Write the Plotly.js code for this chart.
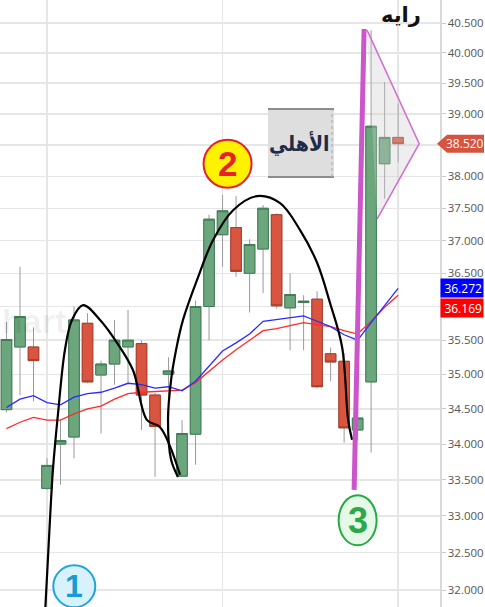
<!DOCTYPE html>
<html>
<head>
<meta charset="utf-8">
<script src="https://cdn.plot.ly/plotly-3.0.1.min.js"></script>
<style>html,body{margin:0;padding:0;background:#fff;}#chart{width:485px;height:607px;}</style>
</head>
<body>
<div id="chart"></div>
<script>
// ---- candle data ----
const openP  = [34.49,35.40,35.40,33.38,34.00,34.10,35.75,34.99,35.15,35.40,35.45,34.70,35.00,33.55,34.14,36.00,37.09,37.20,36.50,36.87,37.40,35.98,36.06,36.11,35.30,35.19,34.20,34.89,38.20,38.62];
const highP  = [35.77,36.60,35.69,33.80,34.35,36.00,35.90,35.20,35.80,35.95,35.50,34.73,35.25,34.34,36.09,37.40,37.71,37.69,37.02,37.55,37.42,36.50,36.17,36.23,35.39,35.31,34.45,40.38,39.52,39.17];
const lowP   = [34.45,34.70,34.61,33.36,33.43,33.80,34.87,34.15,34.85,34.87,34.20,33.54,34.30,33.54,33.71,35.50,36.60,36.45,35.91,36.20,35.97,35.35,35.35,34.80,34.90,34.02,34.05,33.88,37.65,38.22];
const closeP = [35.51,35.85,35.20,33.70,34.05,35.80,34.89,35.15,35.50,35.50,34.70,34.25,35.05,34.15,36.00,37.33,37.46,36.53,36.94,37.50,36.01,36.18,36.08,34.82,35.18,34.23,34.37,38.80,38.62,38.52];
// moving averages
const maBlue = [34.52,34.64,34.69,34.59,34.56,34.67,34.72,34.74,34.80,34.87,34.85,34.80,34.82,34.76,34.90,35.12,35.34,35.46,35.59,35.78,35.81,35.84,35.86,35.78,35.70,35.58,35.50,35.76,36.02,36.272];
const maRed  = [34.22,34.31,34.38,34.34,34.34,34.43,34.50,34.54,34.64,34.72,34.74,34.75,34.77,34.77,34.88,35.05,35.21,35.36,35.50,35.64,35.67,35.72,35.76,35.73,35.70,35.64,35.59,35.78,35.99,36.169];
// y axis ticks (labels hidden under the price tags are left blank)
const tickValues = [32,32.5,33,33.5,34,34.5,35,35.5,36,36.5,37,37.5,38,38.5,39,39.5,40,40.5];
const hiddenTicks = [36, 38.5];
// hand-drawn annotations (candle index, price)
const arc1X = [2.83,3.22,3.44,3.82,4.33,4.85,5.67,6.93,8.19,9.37,10.41,11.37,12.85];
const arc1Y = [31.60,32.95,33.64,34.44,35.36,35.80,36.02,35.80,35.46,35.06,34.34,34.24,33.57];
const arc2X = [12.70,12.19,11.96,12.19,12.56,13.07,14.11,15.30,16.78,18.56,20.26,21.74,23.00,23.96,24.85,25.30,25.59];
const arc2Y = [33.54,33.78,34.34,34.92,35.36,35.80,36.40,37.01,37.47,37.69,37.58,37.16,36.66,36.05,35.40,34.34,34.06];
const pinkLineX = [25.74,26.48];
const pinkLineY = [33.36,40.40];
const triX = [26.70,30.56,27.44];
const triY = [40.38,38.52,37.33];
const circleLabels = ['1','2','3'];
const circleX = [5.02,16.37,26.0];
const circleY = [32.05,38.20,32.94];

const xs = openP.map((_, i) => i);
const xLo = -0.48, xHi = 32.1;
const yLo = 31.775, yHi = 40.889;
const L10 = Math.log10;
const r0 = L10(yLo), r1 = L10(yHi);
const PW = 440, PH = 607;
const xPaper = v => (v - xLo) / (xHi - xLo);
const yPaper = v => (L10(v) - r0) / (r1 - r0);

const bodyHi = openP.map((o, i) => Math.max(o, closeP[i]));
const bodyLo = openP.map((o, i) => Math.min(o, closeP[i]));

const GREEN = '#6ba67d', GREEN_B = '#3f7d55', RED = '#d9553f', RED_B = '#a83c2b';

const traces = [
  {type:'scatter', x:triX, y:triY, mode:'lines', fill:'toself', fillcolor:'rgba(205,205,205,0.35)', line:{width:0}, hoverinfo:'skip'},
  {type:'candlestick', x:xs, open:openP, high:highP, low:lowP, close:closeP,
   increasing:{line:{color:'#9a9a9a', width:1}, fillcolor:GREEN},
   decreasing:{line:{color:'#9a9a9a', width:1}, fillcolor:RED}, whiskerwidth:0},
  {type:'candlestick', x:xs, open:openP, high:bodyHi, low:bodyLo, close:closeP,
   increasing:{line:{color:GREEN_B, width:1}, fillcolor:GREEN},
   decreasing:{line:{color:RED_B, width:1}, fillcolor:RED}, whiskerwidth:0},
  {type:'scatter', x:xs, y:maRed, mode:'lines', line:{color:'#ff2a2a', width:1.3}},
  {type:'scatter', x:xs, y:maBlue, mode:'lines', line:{color:'#2a2aff', width:1.3}},
  {type:'scatter', x:[triX[0],triX[1],triX[2]], y:[triY[0],triY[1],triY[2]], mode:'lines', line:{color:'#d36bd3', width:1.5}},
  {type:'scatter', x:arc1X, y:arc1Y, mode:'lines', line:{color:'#000', width:2.2, shape:'spline'}},
  {type:'scatter', x:arc2X, y:arc2Y, mode:'lines', line:{color:'#000', width:2.2, shape:'spline'}},
  {type:'scatter', x:pinkLineX, y:pinkLineY, mode:'lines', line:{color:'#cc55cc', width:5}}
];

const circleStyle = [
  {fill:'#d8f2fb', line:'#1ea5e0', text:'#1a9bd8', rx:21, ry:21, size:32},
  {fill:'#fff200', line:'#e8202a', text:'#e8202a', rx:24, ry:24, size:35},
  {fill:'#e6f8e6', line:'#22aa44', text:'#2aa84a', rx:19, ry:25, size:36}
];

const shapes = [];
const annotations = [];
circleLabels.forEach((t, i) => {
  const s = circleStyle[i];
  const cx = xPaper(circleX[i]), cy = yPaper(circleY[i]);
  shapes.push({type:'circle', xref:'paper', yref:'paper',
    x0:cx - s.rx/PW, x1:cx + s.rx/PW, y0:cy - s.ry/PH, y1:cy + s.ry/PH,
    fillcolor:s.fill, line:{color:s.line, width:2}});
  annotations.push({xref:'paper', yref:'paper', x:cx, y:cy, xanchor:'center', yanchor:'middle',
    text:'<b>'+t+'</b>', showarrow:false,
    font:{family:'Liberation Sans, Arial, sans-serif', size:s.size, color:s.text}});
});

// Al-Ahli label box
const bx0 = 268/PW, bx1 = 334/PW, by0 = 1-177/PH, by1 = 1-109/PH;
shapes.push({type:'rect', xref:'paper', yref:'paper', x0:bx0, x1:bx1, y0:by0, y1:by1, fillcolor:'#dedede', line:{width:0}});
shapes.push({type:'line', xref:'paper', yref:'paper', x0:bx0, x1:bx1, y0:by1, y1:by1, line:{color:'#8c8c8c', width:2}});
shapes.push({type:'line', xref:'paper', yref:'paper', x0:bx0, x1:bx1, y0:by0, y1:by0, line:{color:'#8c8c8c', width:2}});
shapes.push({type:'line', xref:'paper', yref:'paper', x0:bx1-2/PW, x1:bx1-2/PW, y0:by0, y1:by1, line:{color:'#a8a8a8', width:1, dash:'dot'}});
annotations.push({xref:'paper', yref:'paper', x:(bx0+bx1)/2 - 2/PW, y:(by0+by1)/2, xanchor:'center', yanchor:'middle',
  text:'<b>الأهلي</b>', showarrow:false,
  font:{family:'DejaVu Sans Condensed, DejaVu Sans, sans-serif', size:21, color:'#1f2b47'}});
annotations.push({xref:'paper', yref:'paper', x:401/PW, y:1-15/PH, xanchor:'center', yanchor:'middle',
  text:'<b>رايه</b>', showarrow:false,
  font:{family:'DejaVu Sans, sans-serif', size:21, color:'#111'}});
// faint watermark (only its visible part)
annotations.push({xref:'paper', yref:'paper', x:0, xanchor:'left', y:1-321/PH, yanchor:'middle',
  text:'<b>hart</b>', showarrow:false,
  font:{family:'Liberation Sans, Arial, sans-serif', size:34, color:'rgba(0,0,0,0.06)'}});

// price labels on the axis
const lastClose = closeP[closeP.length-1];
const lastBlue = maBlue[maBlue.length-1];
const lastRed = maRed[maRed.length-1];
const yc = yPaper(lastClose);
const hh = 9/PH;
shapes.push({type:'path', xref:'paper', yref:'paper', fillcolor:'#d6533e', line:{width:0},
  path:`M ${437/PW} ${yc} L ${447/PW} ${yc+hh} L ${484/PW} ${yc+hh} L ${484/PW} ${yc-hh} L ${447/PW} ${yc-hh} Z`});
annotations.push({xref:'paper', yref:'y', x:465.5/PW, y:L10(lastClose), xanchor:'center', yanchor:'middle',
  text:lastClose.toFixed(3), showarrow:false,
  font:{family:'Open Sans, sans-serif', size:12, color:'#fff'}});
annotations.push({xref:'paper', yref:'y', x:1, xanchor:'left', y:L10(lastBlue), yanchor:'middle',
  text:lastBlue.toFixed(3), showarrow:false,
  bgcolor:'#0000ff', width:40, height:16, borderpad:1, font:{family:'Open Sans, sans-serif', size:12, color:'#fff'}, align:'right'});
annotations.push({xref:'paper', yref:'y', x:1, xanchor:'left', y:L10(lastRed), yanchor:'middle', yshift:-12.5,
  text:lastRed.toFixed(3), showarrow:false,
  bgcolor:'#ff0000', width:40, height:16, borderpad:1, font:{family:'Open Sans, sans-serif', size:12, color:'#fff'}, align:'right'});

const layout = {
  width:485, height:607,
  margin:{l:0, r:45, t:0, b:0},
  paper_bgcolor:'#fff', plot_bgcolor:'#fff',
  showlegend:false,
  boxgap:0.1, boxgroupgap:0.13,
  xaxis:{range:[xLo, xHi], showticklabels:false, tickmode:'array', tickvals:[3,16,29],
    showgrid:true, gridcolor:'#e6e6e6', gridwidth:1.5, zeroline:false, rangeslider:{visible:false}, fixedrange:true},
  yaxis:{type:'log', side:'right', range:[r0, r1], tickmode:'array', tickvals:tickValues,
    ticktext:tickValues.map(v => hiddenTicks.includes(v) ? '' : v.toFixed(3)), showgrid:true, gridcolor:'#e6e6e6', gridwidth:1.5,
    showline:true, linecolor:'#d9d9d9', linewidth:1.5, ticks:'outside', ticklen:4, tickcolor:'#c8c8c8',
    tickfont:{family:'Open Sans, sans-serif', size:11.5, color:'#555'}, zeroline:false},
  shapes:shapes,
  annotations:annotations
};

Plotly.newPlot('chart', traces, layout, {staticPlot:true, displayModeBar:false});
</script>
</body>
</html>
